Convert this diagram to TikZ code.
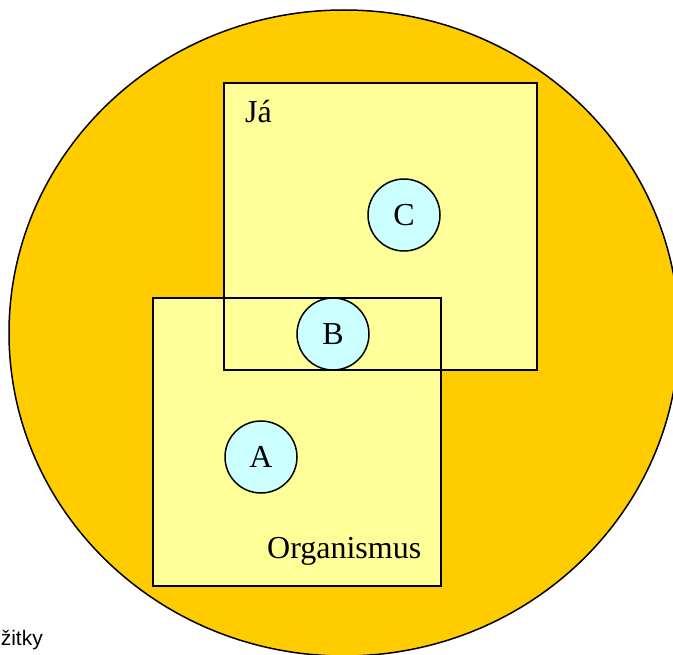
\documentclass[tikz,border=0pt]{standalone}
\usepackage{fontspec}
\setmainfont{Liberation Serif}
\newfontfamily\arialfont{Liberation Sans}
\definecolor{bgorange}{HTML}{FFCC00}
\definecolor{paleyellow}{HTML}{FFFF99}
\definecolor{palecyan}{HTML}{CCFFFF}
\tikzset{
  outline/.style={draw=black, line width=1.5pt},
  circ/.style={circle, outline, fill=palecyan, minimum size=72pt, inner sep=0pt, font=\fontsize{32}{38}\selectfont},
  lbl/.style={font=\fontsize{32}{38}\selectfont, inner sep=0pt}
}
\begin{document}
\begin{tikzpicture}[x=1pt, y=-1pt]
\useasboundingbox (0,0) rectangle (673,655);
\clip (0,0) rectangle (673,655);
\fill[white] (0,0) rectangle (673,655);
% big ellipse
\draw[outline, fill=bgorange] (344,333) ellipse [x radius=335, y radius=323];
% rectangles
\coordinate (ja1) at (224,83);
\coordinate (ja2) at (537,370);
\coordinate (org1) at (153,298);
\coordinate (org2) at (441,586);
\fill[paleyellow] (org1) rectangle (org2);
\fill[paleyellow] (ja1) rectangle (ja2);
\draw[outline] (org1) rectangle (org2);
\draw[outline] (ja1) rectangle (ja2);
% labels
\node[lbl, anchor=base west] (jalabel) at (245,123) {Já};
\node[lbl, anchor=base west] (orglabel) at (267,558) {Organismus};
% circles
\node[circ] (C) at (404,215) {C};
\node[circ] (B) at (333,334) {B};
\node[circ] (A) at (261,457) {A};
% cut-off caption
\node[anchor=base east, inner sep=0pt, font=\arialfont\fontsize{21}{25}\selectfont] (prozitky) at (43,645) {Prožitky};
\end{tikzpicture}
\end{document}
